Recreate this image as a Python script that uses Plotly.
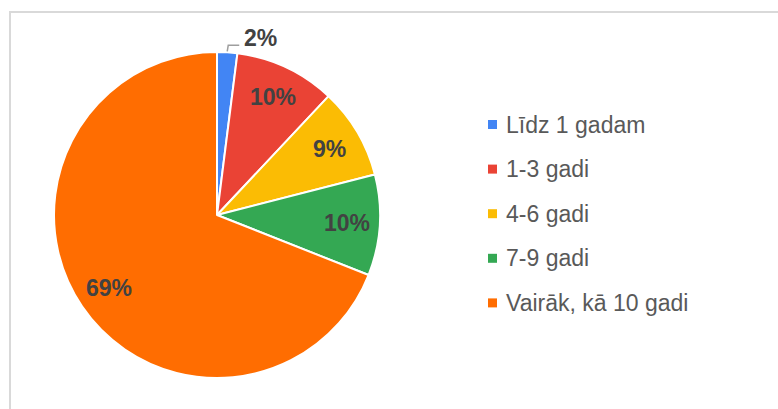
import math
import plotly.graph_objects as go

labels = ["Līdz 1 gadam", "1-3 gadi", "4-6 gadi", "7-9 gadi", "Vairāk, kā 10 gadi"]
values = [2, 10, 9, 10, 69]
colors = ["#4285F4", "#EA4335", "#FBBC04", "#34A853", "#FF6D01"]

W, H = 778, 409
CX, CY, R = 217, 215, 163   # pie centre / radius in px
FONT = "Liberation Sans, Arial, sans-serif"

fig = go.Figure(go.Pie(
    labels=labels,
    values=values,
    sort=False,
    direction="clockwise",
    rotation=0,
    marker=dict(colors=colors, line=dict(color="white", width=2)),
    textinfo="none",
    domain=dict(x=[(CX - R) / W, (CX + R) / W], y=[(H - CY - R) / H, (H - CY + R) / H]),
    showlegend=False,
    hoverinfo="label+percent",
))

shapes = [
    # chart frame
    dict(type="rect", xref="paper", yref="paper",
         x0=10 / W, x1=1.05, y0=-0.05, y1=1 - 12 / H,
         line=dict(color="#d9d9d9", width=2), fillcolor="rgba(0,0,0,0)", layer="below"),
]
annotations = []

# percentage labels, placed from the slice angles
total = sum(values)
cum = 0
for i, v in enumerate(values):
    pct = f"{round(100 * v / total)}%"
    ang = 2 * math.pi * (cum + v / 2) / total
    cum += v
    if v / total < 0.05:
        # small slice: label outside with a leader line
        ex = CX + R * math.sin(ang)
        ey = CY - R * math.cos(ang)
        shapes.append(dict(type="path", xref="paper", yref="paper",
                           path=f"M {ex / W} {1 - (ey - 1) / H} L {(ex + 1) / W} {1 - (ey - 7) / H} "
                                f"L {(ex + 12) / W} {1 - (ey - 7) / H}",
                           line=dict(color="#9e9e9e", width=1.5)))
        annotations.append(dict(text=f"<b>{pct}</b>", xref="paper", yref="paper",
                                x=(ex + 15) / W, y=1 - (ey - 14) / H,
                                xanchor="left", yanchor="middle", showarrow=False,
                                font=dict(family=FONT, size=23, color="#424242")))
    else:
        lx = CX + 0.8 * R * math.sin(ang)
        ly = CY - 0.8 * R * math.cos(ang)
        annotations.append(dict(text=f"<b>{pct}</b>", xref="paper", yref="paper",
                                x=lx / W, y=1 - ly / H,
                                xanchor="center", yanchor="middle", showarrow=False,
                                font=dict(family=FONT, size=23, color="#424242")))

# legend drawn as squares + labels
for i, (lab, col) in enumerate(zip(labels, colors)):
    yc = 1 - (124.5 + i * 44.6) / H
    shapes.append(dict(type="rect", xref="paper", yref="paper",
                       x0=488 / W, x1=497 / W, y0=yc - 4.5 / H, y1=yc + 4.5 / H,
                       fillcolor=col, line=dict(width=0)))
    annotations.append(dict(text=lab, xref="paper", yref="paper",
                            x=504 / W, y=yc, xanchor="left", yanchor="middle",
                            showarrow=False,
                            font=dict(family=FONT, size=23, color="#595959")))

fig.update_layout(
    width=W, height=H,
    margin=dict(l=0, r=0, t=0, b=0),
    paper_bgcolor="white",
    plot_bgcolor="white",
    shapes=shapes,
    annotations=annotations,
)

fig.write_html("out.html", config={"displayModeBar": False},
               post_script="document.body.style.margin='0';")
